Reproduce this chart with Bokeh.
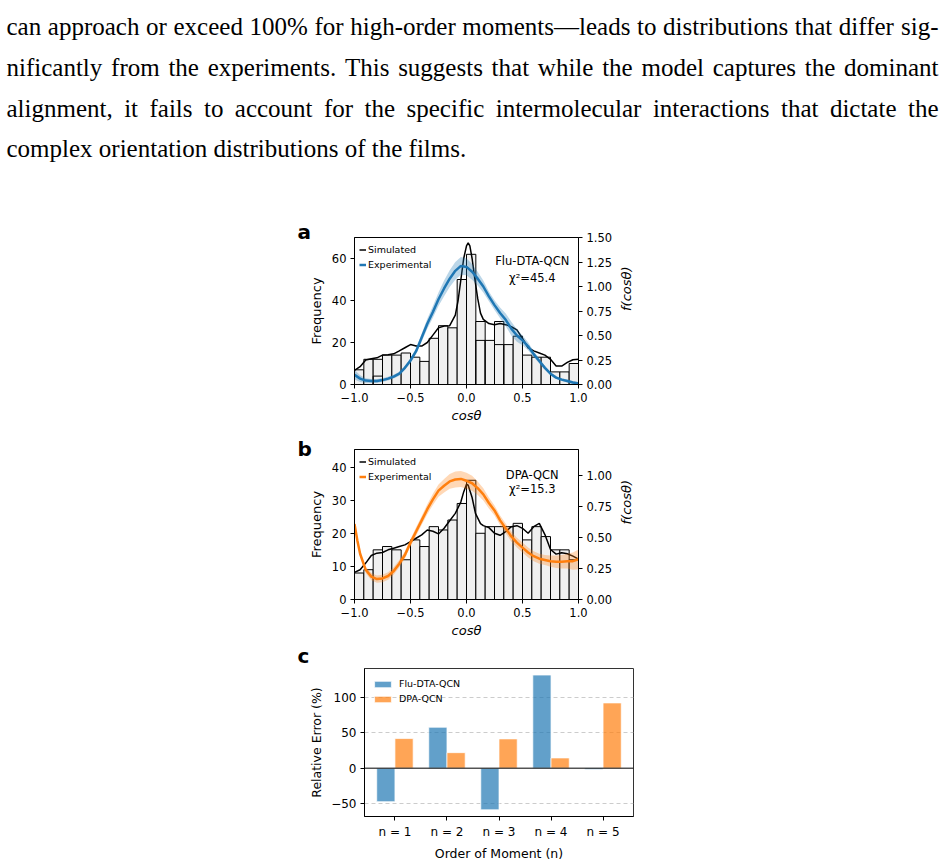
import math
from bokeh.plotting import figure
from bokeh.models import (Range1d, LinearAxis, FixedTicker, Label, Legend, LegendItem,
                          Span, CustomJSTickFormatter)
from bokeh.core.properties import value
from bokeh.embed import file_html
from bokeh.resources import INLINE

FONT = "DejaVu Sans"
BLUE = "#1f77b4"
ORANGE = "#ff7f0e"

# ---------------- paragraph text ----------------
para_lines = [
    "can approach or exceed 100% for high-order moments\u2014leads to distributions that differ sig-",
    "nificantly from the experiments. This suggests that while the model captures the dominant",
    "alignment, it fails to account for the specific intermolecular interactions that dictate the",
    "complex orientation distributions of the films.",
]
para_justify = [True, True, True, False]

# ---------------- panel a / b data ----------------
n_bins = 24
hist_a = [7, 12, 12, 14, 14, 15, 13, 11, 22, 28, 27, 50, 62, 30, 21, 30, 19, 23, 14, 13, 13, 6, 6, 10]
inner_a_bins = [2, 13, 15]
inner_a_vals = [4, 21, 19]
hist_b = [8, 9, 15, 16, 15, 12, 18, 16, 22, 21, 24, 29, 36, 20, 22, 22, 22, 23, 18, 22, 19, 15, 15, 12]

sim_a_x = [-1.0, -0.95, -0.9, -0.85, -0.8, -0.75, -0.7, -0.65, -0.6, -0.55, -0.5, -0.45, -0.4, -0.35,
           -0.3, -0.25, -0.2, -0.15, -0.1, -0.075, -0.05, -0.025, 0.0, 0.015, 0.03, 0.05, 0.075, 0.1,
           0.125, 0.15, 0.2, 0.25, 0.3, 0.35, 0.4, 0.45, 0.5, 0.55, 0.6, 0.65, 0.7, 0.75, 0.8, 0.85,
           0.9, 0.95, 1.0]
sim_a_y = [6.7, 8.5, 11.7, 12.3, 12.7, 14.0, 14.2, 14.6, 16.0, 17.5, 19.0, 18.3, 18.3, 20.0,
           23.5, 27.0, 27.8, 28.0, 33.0, 40.0, 50.0, 60.0, 66.0, 67.5, 66.0, 60.0, 50.0, 41.0,
           34.0, 31.0, 29.0, 28.5, 29.0, 28.5, 27.5, 26.0, 22.0, 17.5, 16.0, 15.0, 14.0, 12.0, 8.8, 8.8,
           10.5, 11.8, 12.0]

grid_x = [-1.0, -0.95, -0.9, -0.85, -0.8, -0.75, -0.7, -0.65, -0.6, -0.55, -0.5, -0.45, -0.4, -0.35,
          -0.3, -0.25, -0.2, -0.15, -0.1, -0.05, 0.0, 0.05, 0.1, 0.15, 0.2, 0.25, 0.3, 0.35, 0.4,
          0.45, 0.5, 0.55, 0.6, 0.65, 0.7, 0.75, 0.8, 0.85, 0.9, 0.95, 1.0]
exp_a_y = [0.10, 0.06, 0.04, 0.035, 0.035, 0.045, 0.06, 0.08, 0.11, 0.17, 0.245, 0.34, 0.48, 0.62,
           0.74, 0.87, 0.98, 1.08, 1.16, 1.21, 1.20, 1.15, 1.08, 1.00, 0.90, 0.81, 0.73, 0.66, 0.57,
           0.50, 0.45, 0.39, 0.31, 0.24, 0.17, 0.11, 0.07, 0.05, 0.035, 0.02, 0.01]
exp_a_err = [0.05, 0.035, 0.025, 0.02, 0.02, 0.02, 0.02, 0.02, 0.02, 0.02, 0.025, 0.03, 0.04, 0.05,
             0.06, 0.07, 0.08, 0.085, 0.09, 0.09, 0.085, 0.08, 0.07, 0.06, 0.05, 0.05, 0.055, 0.065,
             0.07, 0.065, 0.05, 0.04, 0.03, 0.025, 0.02, 0.015, 0.015, 0.015, 0.015, 0.015, 0.015]

sim_b_x = [-1.0, -0.95, -0.9, -0.85, -0.8, -0.75, -0.7, -0.65, -0.6, -0.55, -0.5, -0.45, -0.4, -0.35,
           -0.3, -0.25, -0.2, -0.15, -0.1, -0.05, -0.025, 0.0, 0.015, 0.05, 0.08, 0.125, 0.15, 0.2,
           0.25, 0.3, 0.35, 0.4, 0.45, 0.5, 0.55, 0.6, 0.65, 0.7, 0.75, 0.8, 0.85, 0.9, 0.95, 1.0]
sim_b_y = [8.2, 9.0, 11.0, 13.3, 14.0, 14.2, 15.0, 15.5, 16.0, 16.5, 17.5, 18.5, 19.5, 21.0,
           20.6, 19.8, 21.5, 23.8, 26.0, 29.5, 32.5, 34.8, 34.5, 30.8, 26.0, 22.9, 22.3, 21.7,
           20.0, 19.4, 20.5, 22.0, 22.3, 21.5, 20.0, 22.0, 23.0, 19.6, 15.1, 13.7, 14.1, 13.8, 13.1, 12.2]

exp_b_x = [-1.0, -0.975, -0.95, -0.9, -0.85, -0.8, -0.75, -0.7, -0.65, -0.6, -0.55, -0.5, -0.45, -0.4,
           -0.35, -0.3, -0.25, -0.2, -0.15, -0.1, -0.05, 0.0, 0.05, 0.1, 0.15, 0.2, 0.25, 0.3, 0.35,
           0.4, 0.45, 0.5, 0.55, 0.6, 0.65, 0.7, 0.75, 0.8, 0.85, 0.9, 0.95, 1.0]
exp_b_y = [0.61, 0.48, 0.37, 0.24, 0.185, 0.165, 0.17, 0.19, 0.23, 0.29, 0.36, 0.46, 0.55, 0.64,
           0.73, 0.81, 0.88, 0.92, 0.955, 0.97, 0.975, 0.96, 0.94, 0.90, 0.85, 0.78, 0.72, 0.64, 0.575,
           0.51, 0.46, 0.42, 0.38, 0.35, 0.33, 0.32, 0.31, 0.305, 0.305, 0.31, 0.31, 0.325]
exp_b_err = [0.02, 0.02, 0.02, 0.025, 0.03, 0.03, 0.03, 0.03, 0.03, 0.03, 0.03, 0.03, 0.035, 0.035,
             0.04, 0.045, 0.05, 0.055, 0.06, 0.065, 0.065, 0.065, 0.06, 0.055, 0.05, 0.045, 0.04, 0.04,
             0.04, 0.04, 0.04, 0.04, 0.04, 0.04, 0.04, 0.04, 0.045, 0.05, 0.055, 0.06, 0.07, 0.08]

# ---------------- panel c data ----------------
moment_labels = ["n = 1", "n = 2", "n = 3", "n = 4", "n = 5"]
err_flu = [-47.5, 58.0, -59.0, 132.0, -2.0]
err_dpa = [42.0, 22.0, 41.5, 14.5, 92.5]

# ---------------- helpers ----------------
TW = {' ': 250, '%': 833, '-': 333, '.': 250, ',': 250, '\u2014': 1000,
      '0': 500, '1': 500, '2': 500, '3': 500, '4': 500, '5': 500, '6': 500, '7': 500, '8': 500, '9': 500,
      'T': 611, 'a': 444, 'b': 500, 'c': 444, 'd': 500, 'e': 444, 'f': 333, 'g': 500, 'h': 500,
      'i': 278, 'j': 278, 'k': 500, 'l': 278, 'm': 778, 'n': 500, 'o': 500, 'p': 500, 'q': 500,
      'r': 333, 's': 389, 't': 278, 'u': 500, 'v': 500, 'w': 722, 'x': 500, 'y': 500, 'z': 444}


def text_w(s, fs):
    return sum(TW.get(ch, 500) for ch in s) / 1000.0 * fs


def minus_fmt(decimals):
    return CustomJSTickFormatter(code="return (tick < 0 ? '\u2212' : '') + Math.abs(tick).toFixed(%d);" % decimals)


def style_axis(ax, size="11.5px"):
    ax.major_label_text_font = FONT
    ax.major_label_text_font_size = size
    ax.major_label_text_color = "black"
    ax.axis_label_text_font = FONT
    ax.axis_label_text_color = "black"
    ax.axis_line_color = "black"
    ax.major_tick_line_color = "black"
    ax.minor_tick_line_color = None
    ax.major_tick_out = 4
    ax.major_tick_in = 0
    ax.major_label_standoff = 4


def panel_letter(p, letter, offset, standoff):
    p.title.text = letter
    p.title.align = "left"
    p.title.offset = offset
    try:
        p.title.standoff = standoff
    except Exception:
        p.title.standoff = 0
    p.title.text_font = FONT
    p.title.text_font_size = "20px"
    p.title.text_font_style = "bold"
    p.title.text_color = "black"


# ---------------- text figure ----------------
PFS = 25
tf = figure(width=944, height=205, x_range=Range1d(0, 944), y_range=Range1d(205, 0),
            x_axis_type=None, y_axis_type=None, output_backend="svg", toolbar_location=None,
            min_border=0)
tf.grid.visible = False
tf.outline_line_color = None
baselines = [26, 67, 108, 148]
wx, wy, wt = [], [], []
for line, just, yb in zip(para_lines, para_justify, baselines):
    words = line.split(" ")
    widths = [text_w(w, PFS) for w in words]
    if just:
        gap = (932 - sum(widths)) / (len(words) - 1)
    else:
        gap = text_w(" ", PFS)
    x = 6.0
    for w, wd in zip(words, widths):
        wx.append(x); wy.append(yb); wt.append(w)
        x += wd + gap
tf.text(x=wx, y=wy, text=wt, text_font=value("Liberation Serif"), text_font_size=value("%dpx" % PFS),
        text_baseline="alphabetic", text_align="left", text_color="black")

edges = [-1.0 + 2.0 * i / n_bins for i in range(n_bins + 1)]


def hist_panel(letter, letter_standoff, hist, ymax, fmax, ftick, sim_x, sim_y, ex_x, ex_y, ex_err, color,
               name, chi, lab_y, chi_y, heights):
    top_b, frame_h, bot_b = heights
    p = figure(width=354 + 224 + 76, height=top_b + frame_h + bot_b, x_range=Range1d(-1, 1),
               y_range=Range1d(0, ymax), output_backend="svg", toolbar_location=None,
               min_border_left=354, min_border_right=76, min_border_top=top_b, min_border_bottom=bot_b)
    p.grid.visible = False
    p.outline_line_color = "black"
    p.outline_line_width = 1
    p.extra_y_ranges = {"f": Range1d(0, fmax)}
    p.quad(left=edges[:-1], right=edges[1:], bottom=0, top=hist, fill_color="#f0f0f0",
           line_color="black", line_width=1)
    r_sim = p.line(sim_x, sim_y, line_color="black", line_width=1.5)
    lo = [y - e for y, e in zip(ex_y, ex_err)]
    hi = [y + e for y, e in zip(ex_y, ex_err)]
    p.varea(x=ex_x, y1=lo, y2=hi, fill_color=color, fill_alpha=0.3, y_range_name="f")
    r_exp = p.line(ex_x, ex_y, line_color=color, line_width=2.5, y_range_name="f")

    p.xaxis.ticker = FixedTicker(ticks=[-1, -0.5, 0, 0.5, 1])
    p.xaxis.formatter = minus_fmt(1)
    p.xaxis.axis_label = "cos\u03b8"
    p.xaxis.axis_label_text_font_style = "italic"
    p.xaxis.axis_label_text_font_size = "13px"
    p.xaxis.axis_label_standoff = 3
    p.yaxis.axis_label = "Frequency"
    p.yaxis.axis_label_text_font_style = "normal"
    p.yaxis.axis_label_text_font_size = "13px"
    p.yaxis.axis_label_standoff = 5
    style_axis(p.xaxis[0]); style_axis(p.yaxis[0])
    rax = LinearAxis(y_range_name="f", ticker=FixedTicker(ticks=ftick), formatter=minus_fmt(2))
    style_axis(rax)
    rax.axis_label = "f(cos\u03b8)"
    rax.axis_label_text_font_style = "italic"
    rax.axis_label_text_font_size = "13px"
    rax.axis_label_standoff = 11
    try:
        if "axis_label_orientation" in rax.properties():
            rax.axis_label_orientation = math.pi / 2
    except Exception:
        pass
    p.add_layout(rax, "right")

    p.add_layout(Label(x=0.587, y=lab_y, text=name, text_align="center", text_baseline="alphabetic",
                       text_font=FONT, text_font_size="11.5px", text_color="black"))
    p.add_layout(Label(x=0.587, y=chi_y, text=chi, text_align="center", text_baseline="alphabetic",
                       text_font=FONT, text_font_size="11.5px", text_color="black"))
    panel_letter(p, letter, -57, letter_standoff)
    leg = Legend(items=[LegendItem(label="Simulated", renderers=[r_sim]),
                        LegendItem(label="Experimental", renderers=[r_exp])],
                 location="top_left", margin=4, padding=1, spacing=0, glyph_width=7, glyph_height=15,
                 label_height=15, label_standoff=2, label_text_font=FONT, label_text_font_size="9.5px",
                 label_text_color="black", border_line_alpha=0, background_fill_alpha=0)
    p.add_layout(leg)
    return p


fa = hist_panel("a", -12, hist_a, 70, 1.5, [0, 0.25, 0.5, 0.75, 1.0, 1.25, 1.5], sim_a_x, sim_a_y,
                grid_x, exp_a_y, exp_a_err, BLUE, "Flu-DTA-QCN", "\u03c7\u00b2=45.4", 58.7, 50.8,
                (32, 147, 41))
fa.quad(left=[edges[b] for b in inner_a_bins], right=[edges[b + 1] for b in inner_a_bins],
        bottom=0, top=inner_a_vals, fill_alpha=0, line_color="black", line_width=1)
fa.yaxis[0].ticker = FixedTicker(ticks=[0, 20, 40, 60])

fb = hist_panel("b", -23, hist_b, 45.3, 1.213, [0, 0.25, 0.5, 0.75, 1.0], sim_b_x, sim_b_y,
                exp_b_x, exp_b_y, exp_b_err, ORANGE, "DPA-QCN", "\u03c7\u00b2=15.3", 37.6, 33.3,
                (24, 154, 37))
fb.yaxis[0].ticker = FixedTicker(ticks=[0, 10, 20, 30, 40])

# ---------------- panel c ----------------
fc = figure(width=643, height=223, x_range=Range1d(-0.585, 4.585), y_range=Range1d(-68.5, 141.3),
            output_backend="svg", toolbar_location=None,
            min_border_left=364, min_border_right=10, min_border_top=27, min_border_bottom=46)
fc.xgrid.visible = False
fc.ygrid.ticker = FixedTicker(ticks=[-50, 50, 100])
fc.ygrid.grid_line_color = "#cccccc"
fc.ygrid.grid_line_dash = "4 3"
fc.outline_line_color = "#333333"
fc.outline_line_width = 1
xpos = list(range(len(moment_labels)))
r_flu = fc.vbar(x=[i - 0.175 for i in xpos], top=err_flu, bottom=0, width=0.35, fill_color=BLUE,
                fill_alpha=0.7, line_color="white", line_alpha=0.7)
r_dpa = fc.vbar(x=[i + 0.175 for i in xpos], top=err_dpa, bottom=0, width=0.35, fill_color=ORANGE,
                fill_alpha=0.7, line_color="white", line_alpha=0.7)
fc.add_layout(Span(location=0, dimension="width", line_color="black", line_width=1))
fc.xaxis.ticker = FixedTicker(ticks=xpos)
fc.xaxis.major_label_overrides = {i: lab for i, lab in zip(xpos, moment_labels)}
fc.yaxis.ticker = FixedTicker(ticks=[-50, 0, 50, 100])
fc.yaxis.formatter = minus_fmt(0)
style_axis(fc.xaxis[0], "12px"); style_axis(fc.yaxis[0], "12px")
fc.xaxis.axis_label = "Order of Moment (n)"
fc.yaxis.axis_label = "Relative Error (%)"
for ax in (fc.xaxis[0], fc.yaxis[0]):
    ax.axis_label_text_font_style = "normal"
    ax.axis_label_text_font_size = "12.5px"
    ax.axis_label_standoff = 4
panel_letter(fc, "c", -67, 2)
legc = Legend(items=[LegendItem(label="Flu-DTA-QCN", renderers=[r_flu]),
                     LegendItem(label="DPA-QCN", renderers=[r_dpa])],
              location="top_left", margin=2, padding=6, spacing=0, glyph_width=21, glyph_height=8,
              label_height=15, label_standoff=6, label_text_font=FONT, label_text_font_size="9.5px",
              label_text_color="black", border_line_alpha=0, background_fill_alpha=0)
fc.add_layout(legc)

open("out.html", "w").write(file_html([tf, fa, fb, fc], INLINE))
